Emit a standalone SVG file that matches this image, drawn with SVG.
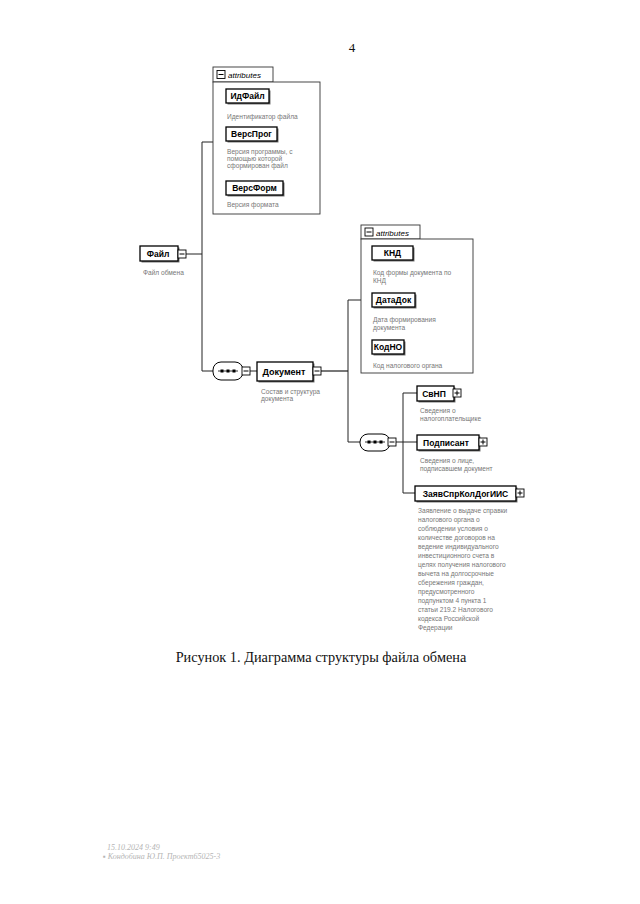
<svg xmlns="http://www.w3.org/2000/svg" width="640" height="904" viewBox="0 0 640 904">
<style>
.el{fill:#fff;stroke:#000;stroke-width:1.3}
.sh{fill:#777}
.nm{font-family:"Liberation Sans",Arial,sans-serif;font-weight:bold;font-size:8.5px;fill:#000;text-anchor:middle}
.ds{font-family:"Liberation Sans",Arial,sans-serif;font-size:6.6px;fill:#777}
.att{fill:#fff;stroke:#333;stroke-width:0.9}
.at{font-family:"Liberation Sans",Arial,sans-serif;font-style:italic;font-size:8px;fill:#000}
.ic{fill:#fff;stroke:#000;stroke-width:0.9}
.cn{fill:none;stroke:#222;stroke-width:1}
.cg{fill:none;stroke:#777;stroke-width:2}
.seq{fill:#fff;stroke:#000;stroke-width:1}
</style>
<rect x="0" y="0" width="640" height="904" fill="#fff"/>
<text x="352" y="52" font-family="Liberation Serif,Times New Roman,serif" font-size="13" fill="#111" text-anchor="middle">4</text>

<g id="connectors">
  <path class="cn" d="M186 254 H202 M214 142 H202 V371 H213"/>
  <path class="cn" d="M250 371 H257"/>
  <path class="cg" d="M321 371 H348"/>
  <path class="cn" d="M361 300 H348 V442 H360"/>
  <path class="cn" d="M396 442 H417 M417 393 H403 V493 H415"/>
</g>

<g id="attrs1">
  <rect class="att" x="213" y="67" width="60" height="15"/>
  <rect class="att" x="213" y="82" width="107" height="132"/>
  <rect class="ic" x="217" y="70.5" width="8" height="8"/>
  <path d="M218.5 74.5 H223.5" stroke="#000" stroke-width="1"/>
  <text class="at" x="228" y="78">attributes</text>
</g>
<g id="ИдФайл">
  <rect class="sh" x="227.5" y="90.5" width="43" height="14"/>
  <rect class="el" x="226" y="89" width="43" height="14"/>
  <text class="nm" x="247.5" y="99">ИдФайл</text>
  <text class="ds" x="227" y="119">Идентификатор файла</text>
</g>
<g id="ВерсПрог">
  <rect class="sh" x="227.5" y="128.5" width="51" height="14"/>
  <rect class="el" x="226" y="127" width="51" height="14"/>
  <text class="nm" x="251.5" y="137">ВерсПрог</text>
  <text class="ds" x="227" y="154">Версия программы, с</text>
  <text class="ds" x="227" y="161">помощью которой</text>
  <text class="ds" x="227" y="168">сформирован файл</text>
</g>
<g id="ВерсФорм">
  <rect class="sh" x="227.5" y="182.5" width="57" height="14"/>
  <rect class="el" x="226" y="181" width="57" height="14"/>
  <text class="nm" x="254.5" y="191">ВерсФорм</text>
  <text class="ds" x="227" y="207">Версия формата</text>
</g>

<g id="Файл">
  <rect class="sh" x="141.5" y="247.5" width="38" height="15"/>
  <rect class="el" x="140" y="246" width="38" height="15"/>
  <text class="nm" x="158" y="257">Файл</text>
  <rect class="ic" x="178" y="250" width="8" height="8"/>
  <path d="M179.5 254 H184.5" stroke="#000" stroke-width="1"/>
  <text class="ds" x="143" y="275">Файл обмена</text>
</g>

<g id="seq1">
  <rect class="seq" x="213" y="362" width="30" height="18" rx="8" ry="8"/>
  <path d="M218 371 H238" stroke="#000" stroke-width="0.8"/>
  <rect x="220.5" y="369.5" width="3" height="3" fill="#000"/>
  <rect x="226.5" y="369.5" width="3" height="3" fill="#000"/>
  <rect x="232.5" y="369.5" width="3" height="3" fill="#000"/>
  <rect class="ic" x="242" y="367" width="8" height="8"/>
  <path d="M243.5 371 H248.5" stroke="#000" stroke-width="1"/>
</g>

<g id="Документ">
  <rect class="sh" x="258.5" y="363.5" width="56" height="19"/>
  <rect class="el" x="257" y="362" width="56" height="19"/>
  <text class="nm" x="284" y="375" style="font-size:9px">Документ</text>
  <rect class="ic" x="313" y="367" width="8" height="8"/>
  <path d="M314.5 371 H319.5" stroke="#000" stroke-width="1"/>
  <text class="ds" x="261" y="394">Состав и структура</text>
  <text class="ds" x="261" y="401">документа</text>
</g>

<g id="attrs2">
  <rect class="att" x="361" y="225" width="59" height="14"/>
  <rect class="att" x="361" y="239" width="112" height="134"/>
  <rect class="ic" x="365" y="228" width="8" height="8"/>
  <path d="M366.5 232 H371.5" stroke="#000" stroke-width="1"/>
  <text class="at" x="376" y="235.5">attributes</text>
</g>
<g id="КНД">
  <rect class="sh" x="373.5" y="247.5" width="41" height="14"/>
  <rect class="el" x="372" y="246" width="41" height="14"/>
  <text class="nm" x="392.5" y="256">КНД</text>
  <text class="ds" x="373" y="275">Код формы документа по</text>
  <text class="ds" x="373" y="283">КНД</text>
</g>
<g id="ДатаДок">
  <rect class="sh" x="373.5" y="294.5" width="43" height="14"/>
  <rect class="el" x="372" y="293" width="43" height="14"/>
  <text class="nm" x="393.5" y="303">ДатаДок</text>
  <text class="ds" x="373" y="322">Дата формирования</text>
  <text class="ds" x="373" y="330">документа</text>
</g>
<g id="КодНО">
  <rect class="sh" x="373.5" y="341.5" width="32" height="14"/>
  <rect class="el" x="372" y="340" width="32" height="14"/>
  <text class="nm" x="388" y="350">КодНО</text>
  <text class="ds" x="373" y="368">Код налогового органа</text>
</g>

<g id="seq2">
  <rect class="seq" x="360" y="434" width="30" height="17" rx="8" ry="8"/>
  <path d="M365 442 H385" stroke="#000" stroke-width="0.8"/>
  <rect x="367.5" y="440.5" width="3" height="3" fill="#000"/>
  <rect x="373.5" y="440.5" width="3" height="3" fill="#000"/>
  <rect x="379.5" y="440.5" width="3" height="3" fill="#000"/>
  <rect class="ic" x="388" y="438" width="8" height="8"/>
  <path d="M389.5 442 H394.5" stroke="#000" stroke-width="1"/>
</g>

<g id="СвНП">
  <rect class="sh" x="418.5" y="387.5" width="37" height="15"/>
  <rect class="el" x="417" y="386" width="37" height="15"/>
  <text class="nm" x="434" y="396.5">СвНП</text>
  <rect class="ic" x="453" y="389" width="8" height="8"/>
  <path d="M454.5 393 H459.5 M457 390.5 V395.5" stroke="#000" stroke-width="1"/>
  <text class="ds" x="420" y="413">Сведения о</text>
  <text class="ds" x="420" y="421">налогоплательщике</text>
</g>
<g id="Подписант">
  <rect class="sh" x="418.5" y="436.5" width="62" height="15"/>
  <rect class="el" x="417" y="435" width="62" height="15"/>
  <text class="nm" x="446" y="445.5">Подписант</text>
  <rect class="ic" x="479" y="438" width="8" height="8"/>
  <path d="M480.5 442 H485.5 M483 439.5 V444.5" stroke="#000" stroke-width="1"/>
  <text class="ds" x="420" y="463">Сведения о лице,</text>
  <text class="ds" x="420" y="471">подписавшем документ</text>
</g>
<g id="ЗаявСпрКолДогИИС">
  <rect class="sh" x="416.5" y="487.5" width="101" height="15"/>
  <rect class="el" x="415" y="486" width="101" height="15"/>
  <text class="nm" x="465.5" y="496.5">ЗаявСпрКолДогИИС</text>
  <rect class="ic" x="516" y="489" width="8" height="8"/>
  <path d="M517.5 493 H522.5 M520 490.5 V495.5" stroke="#000" stroke-width="1"/>
  <text class="ds" x="418" y="513">Заявление о выдаче справки</text>
  <text class="ds" x="418" y="522">налогового органа о</text>
  <text class="ds" x="418" y="531">соблюдении условия о</text>
  <text class="ds" x="418" y="540">количестве договоров на</text>
  <text class="ds" x="418" y="549">ведение индивидуального</text>
  <text class="ds" x="418" y="558">инвестиционного счета в</text>
  <text class="ds" x="418" y="567">целях получения налогового</text>
  <text class="ds" x="418" y="576">вычета на долгосрочные</text>
  <text class="ds" x="418" y="585">сбережения граждан,</text>
  <text class="ds" x="418" y="594">предусмотренного</text>
  <text class="ds" x="418" y="603">подпунктом 4 пункта 1</text>
  <text class="ds" x="418" y="612">статьи 219.2 Налогового</text>
  <text class="ds" x="418" y="621">кодекса Российской</text>
  <text class="ds" x="418" y="630">Федерации</text>
</g>

<text x="321" y="662" font-family="Liberation Serif,Times New Roman,serif" font-size="14.3" fill="#111" text-anchor="middle">Рисунок 1. Диаграмма структуры файла обмена</text>

<text x="107" y="850" font-family="Liberation Serif,Times New Roman,serif" font-style="italic" font-size="8" fill="#b5b5b5">15.10.2024 9:49</text>
<text x="103" y="859" font-family="Liberation Serif,Times New Roman,serif" font-style="italic" font-size="8" fill="#b5b5b5">▪ Кондобина Ю.П. Проект65025-3</text>
</svg>
